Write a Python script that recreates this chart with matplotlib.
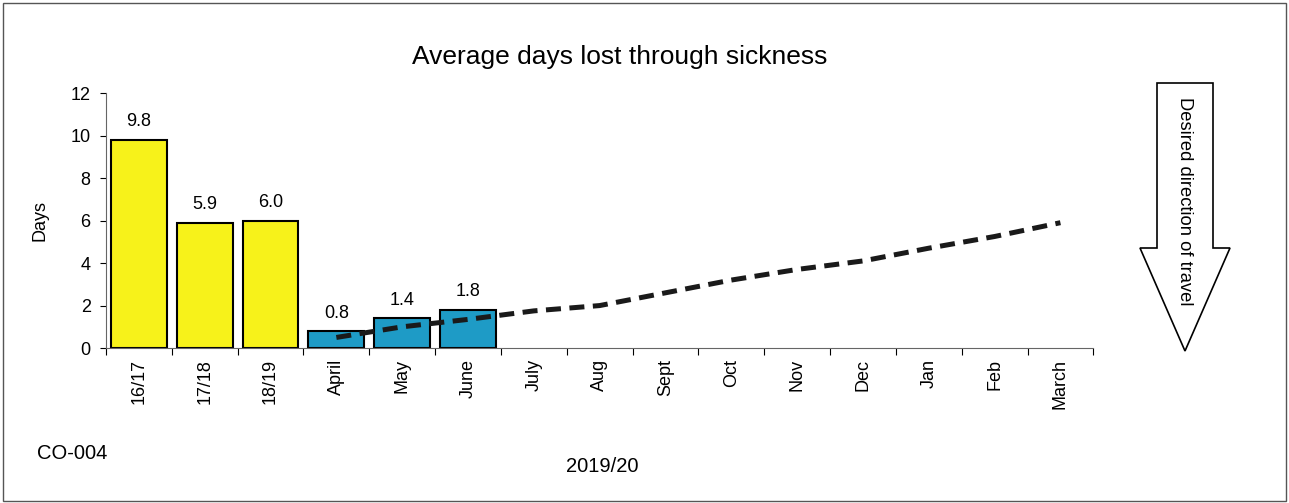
import matplotlib
matplotlib.use('Agg')
import matplotlib.pyplot as plt
from matplotlib.patches import Polygon, Rectangle

plt.rcParams['font.family'] = ['Liberation Sans', 'DejaVu Sans']

# данные
categories = ["16/17", "17/18", "18/19", "April", "May", "June", "July", "Aug",
              "Sept", "Oct", "Nov", "Dec", "Jan", "Feb", "March"]
annual_values = [9.8, 5.9, 6.0]
monthly_values = [0.8, 1.4, 1.8]
target_months = ["April", "May", "June", "July", "Aug", "Sept", "Oct", "Nov",
                 "Dec", "Jan", "Feb", "March"]
target_values = [0.5, 1.0, 1.35, 1.75, 2.0, 2.6, 3.2, 3.7, 4.1, 4.7, 5.25, 5.9]

fig = plt.figure(figsize=(12.89, 5.03), dpi=100)
fig.patches.append(Rectangle((0.002, 0.004), 0.996, 0.99, transform=fig.transFigure,
                             fill=False, edgecolor='#555555', linewidth=1))
ax = fig.add_axes([0.0822, 0.308, 0.766, 0.507])

xpos = {c: i for i, c in enumerate(categories)}
ax.bar([xpos[c] for c in categories[:3]], annual_values, width=0.85,
       color='#F7F21A', edgecolor='black', linewidth=1.5, zorder=2)
ax.bar([xpos[c] for c in categories[3:6]], monthly_values, width=0.85,
       color='#1E9BC6', edgecolor='black', linewidth=1.5, zorder=2)

for c, v in zip(categories[:6], annual_values + monthly_values):
    ax.text(xpos[c], v + 0.45, f"{v:.1f}", ha='center', va='bottom', fontsize=13)

ax.plot([xpos[m] for m in target_months], target_values, color='#1a1a1a',
        linestyle=(0, (3, 1.7)), linewidth=3.6, zorder=3)

ax.set_xlim(-0.5, len(categories) - 0.5)
ax.set_ylim(0, 12)
ax.set_yticks(range(0, 13, 2))
ax.tick_params(axis='y', labelsize=13, length=4, direction='out', pad=7)
ax.set_xticks([i - 0.5 for i in range(len(categories) + 1)])
ax.set_xticklabels([])
ax.set_xticks(range(len(categories)), minor=True)
ax.set_xticklabels(categories, minor=True, rotation=90, fontsize=13)
ax.tick_params(axis='x', which='major', length=5)
ax.tick_params(axis='x', which='minor', length=0, pad=8)
for s in ['top', 'right']:
    ax.spines[s].set_visible(False)
for s in ['left', 'bottom']:
    ax.spines[s].set_color('#666666')

ax.set_ylabel("Days", fontsize=13, labelpad=16)
fig.text(0.481, 0.887, "Average days lost through sickness", ha='center', va='center', fontsize=19)
fig.text(0.029, 0.099, "CO-004", ha='left', va='center', fontsize=14.5)
fig.text(0.467, 0.073, "2019/20", ha='center', va='center', fontsize=14.5)

# стрелка "Desired direction of travel"
W, H = 1289, 503
pts = [(1157, 83), (1213, 83), (1213, 248), (1230, 248), (1185, 351),
       (1140, 248), (1157, 248)]
fig.patches.append(Polygon([(x / W, 1 - y / H) for x, y in pts], closed=True,
                           transform=fig.transFigure, facecolor='white',
                           edgecolor='black', linewidth=1.2))
fig.text(1185 / W, 1 - 201 / H, "Desired direction of travel", rotation=-90,
         ha='center', va='center', fontsize=13.2)

plt.savefig("out.png", dpi=100)
plt.close()
